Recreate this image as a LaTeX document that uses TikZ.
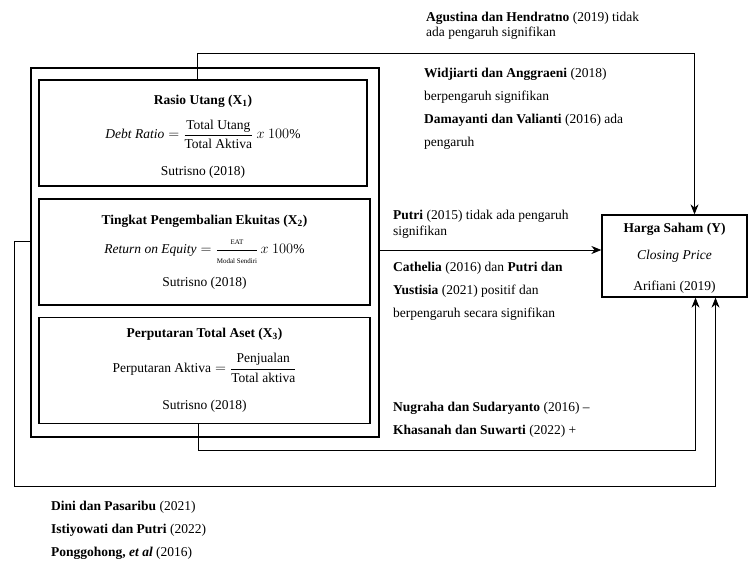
\documentclass[tikz,border=0pt]{standalone}
\usepackage{amsmath}
\usepackage{fontspec}
\setmainfont{Liberation Serif}
\usetikzlibrary{arrows.meta}

\tikzset{
	varbox/.style = {draw, line width=1.3pt, minimum width=328pt, minimum height=106pt, align=center, inner sep=0pt},
	cite/.style = {anchor=west, align=left, inner sep=0pt},
	link/.style = {line width=0.8pt, -{Stealth[length=10pt,width=8pt]}}
}

\begin{document}
\begin{tikzpicture}[x=1pt, y=-1pt, font=\fontsize{13.5}{16}\selectfont]
	\useasboundingbox (0,0) rectangle (749,561);
	% left hand side
	\node[draw, line width=1.3pt, minimum width=348pt, minimum height=369pt] (outer) at (205,252.5) {};
	\node[varbox] (x1) at (203,133) {\rule{0pt}{17pt}\textbf{Rasio Utang (X\textsubscript{1})}\\[11pt]
		$\mathit{Debt\ Ratio} = \dfrac{\text{Total Utang}}{\text{Total Aktiva}}\ x\ 100\%$\\[16pt]
		Sutrisno (2018)};
	\node[varbox, minimum width=331pt] (x2) at (204.5,252) {\textbf{Tingkat Pengembalian Ekuitas (X\textsubscript{2})}\\[11pt]
		$\mathit{Return\ on\ Equity} = \dfrac{\text{\scriptsize EAT}}{\text{\scriptsize Modal\ Sendiri}}\,x\ 100\%$\\[12pt]
		Sutrisno (2018)};
	\node[varbox, minimum width=331pt] (x3) at (204.5,370.5) {\textbf{Perputaran Total Aset (X\textsubscript{3})}\\[12pt]
		$\text{Perputaran Aktiva} = \dfrac{\text{Penjualan}}{\text{Total aktiva}}$\\[17pt]
		Sutrisno (2018)};
	% dependent variable
	\node[draw, line width=1.3pt, minimum width=145pt, minimum height=82pt, align=center, inner sep=0pt] (y) at (674.5,256)
		{\rule{0pt}{14pt}\textbf{Harga Saham (Y)}\\[11pt] \textit{Closing Price}\\[15pt] Arifiani (2019)};

	% connectors
	\draw[link] ([xshift=-6pt]x1.north) -- ([xshift=-6pt]x1.north |- 0,53) -| ([xshift=20pt]y.north);
	\draw[link] (outer.east |- 0,250) -- (y.west |- 0,250);
	\draw[link] ([xshift=-6pt]x3.south) -- ([xshift=-6pt]x3.south |- 0,450) -| ([xshift=21pt]y.south);
	\draw[link] (outer.west |- 0,241) -- (14,241) -- (14,486) -| ([xshift=41pt]y.south);

	% findings
	\node[cite] (agus) at (426,25.5) {\textbf{Agustina dan Hendratno} (2019) tidak\\[-1pt] ada pengaruh signifikan};
	\node[cite] (widj) at (424,109) {\textbf{Widjiarti dan Anggraeni} (2018)\\[7pt] berpengaruh signifikan\\[7pt]
		\textbf{Damayanti dan Valianti} (2016) ada\\[7pt] pengaruh};
	\node[cite] (putr) at (393,224) {\textbf{Putri} (2015) tidak ada pengaruh\\[0pt] signifikan};
	\node[cite] (cath) at (393,291) {\textbf{Cathelia} (2016) dan \textbf{Putri dan}\\[7pt] \textbf{Yustisia} (2021) positif dan\\[7pt]
		berpengaruh secara signifikan};
	\node[cite] (nugr) at (393,420) {\textbf{Nugraha dan Sudaryanto} (2016) --\\[7pt] \textbf{Khasanah dan Suwarti} (2022) +};
	\node[cite] (dini) at (51,530) {\textbf{Dini dan Pasaribu} (2021)\\[7pt] \textbf{Istiyowati dan Putri} (2022)\\[7pt]
		\textbf{Ponggohong, \textit{et al}} (2016)};
\end{tikzpicture}
\end{document}
